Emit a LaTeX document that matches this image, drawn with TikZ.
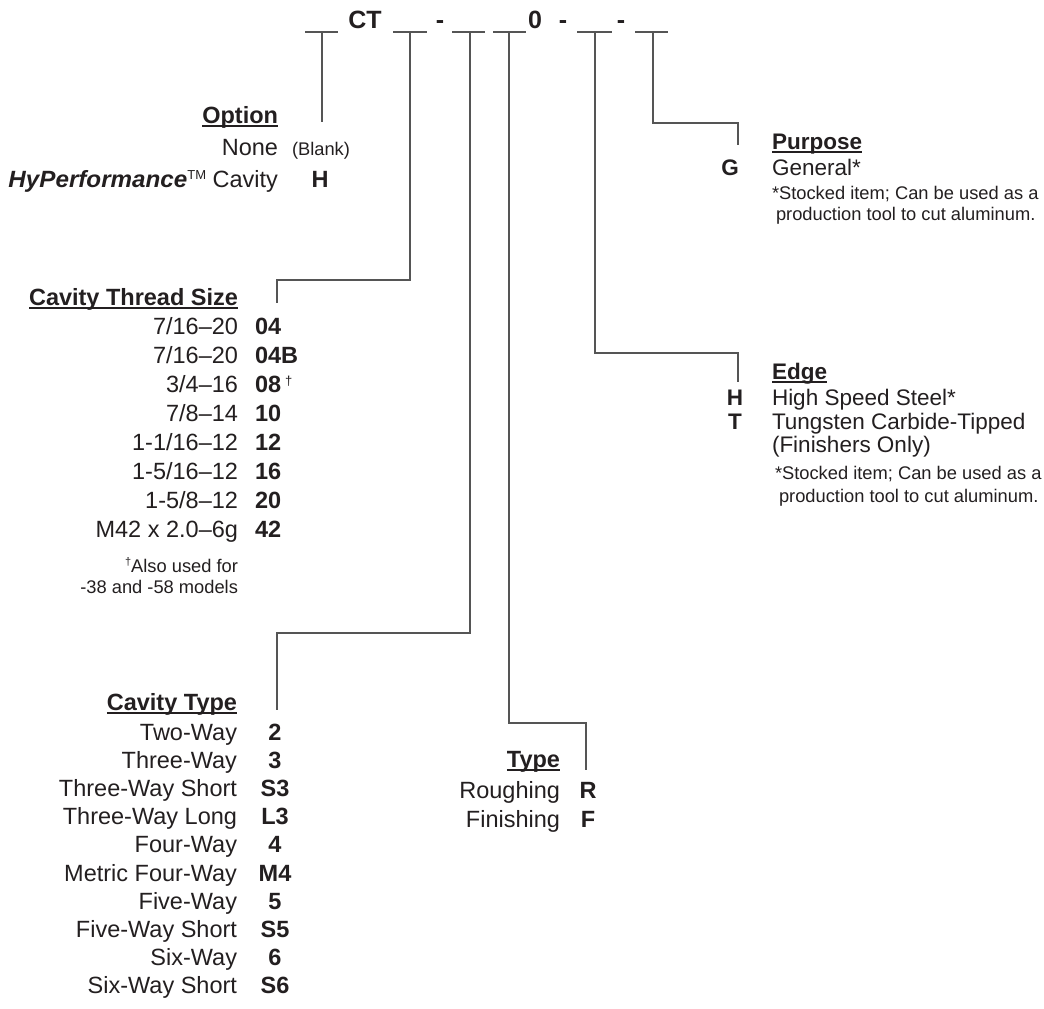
\documentclass[tikz,border=0pt]{standalone}
\usepackage{fontspec}
\setmainfont{Liberation Sans}
\definecolor{ink}{HTML}{231F20}
\definecolor{wirec}{HTML}{555555}
\newcommand{\fsL}{\fontsize{23.5}{27}\selectfont}
\newcommand{\fsR}{\fontsize{22.5}{26}\selectfont}
\begin{document}
\begin{tikzpicture}[x=1pt,y=-1pt,
  every node/.style={inner sep=0pt, outer sep=0pt, text=ink},
  lbl/.style={anchor=base east, font=\fsL},
  txt/.style={anchor=base west, font=\fsR},
  lcode/.style={anchor=base west, font=\fsL\bfseries},
  ccode/.style={anchor=base, font=\fsL\bfseries},
  rcode/.style={anchor=base, font=\fsR\bfseries},
  head/.style={font=\fsL\bfseries},
  rhead/.style={font=\fsR\bfseries},
  note/.style={font=\fontsize{18.3}{20}\selectfont},
  big/.style={anchor=base, font=\fontsize{25}{28}\selectfont\bfseries},
  wire/.style={draw=wirec, line width=1.3pt},
  ul/.style={draw=ink, line width=1.3pt},
]
\useasboundingbox (0,0) rectangle (1044,1009);
\fill[white] (0,0) rectangle (1044,1009);

% ---------- header ----------
\foreach \a/\b in {305/338, 393/427, 452/485, 493/526, 577/612, 635/668}
  \draw[wire] (\a,32) -- (\b,32);
\node[big] (ct) at (365,28) {CT};
\node[big] (d1) at (440,28) {-};
\node[big] (zero) at (535,28) {0};
\node[big] (d2) at (563,28) {-};
\node[big] (d3) at (621,28) {-};
\coordinate (b1) at (322,32);
\coordinate (b2) at (410,32);
\coordinate (b3) at (470,32);
\coordinate (b4) at (509,32);
\coordinate (b5) at (595,32);
\coordinate (b6) at (653,32);

% ---------- Option ----------
\node[head, anchor=base east] (oh) at (278,123) {Option};
\draw[ul] ([yshift=-3pt]oh.base west) -- ([yshift=-3pt]oh.base east);
\node[lbl] (on) at (278,155) {None};
\node[note, anchor=base west] (ob) at (292,155) {(Blank)};
\node[lbl] (ohp) at (278,187) {\scalebox{1.03}[1]{\textbf{\textit{HyPerformance}}}\raisebox{8pt}{\fontsize{13}{13}\selectfont TM} Cavity};
\node[ccode] (oH) at (320,187) {H};
\coordinate (e1) at (322,122);
\draw[wire] (b1) -- (e1);

% ---------- Cavity Thread Size ----------
\node[head, anchor=base east] (th) at (238,305) {Cavity Thread Size};
\draw[ul] ([yshift=-3pt]th.base west) -- ([yshift=-3pt]th.base east);
\node[lbl] (tl0) at (238,334) {7/16–20};
\node[lcode] (tc0) at (255,334) {04};
\node[lbl] (tl1) at (238,363) {7/16–20};
\node[lcode] (tc1) at (255,363) {04B};
\node[lbl] (tl2) at (238,392) {3/4–16};
\node[lcode] (tc2) at (255,392) {08\,\raisebox{7pt}{\normalfont\fontsize{13}{13}\selectfont †}};
\node[lbl] (tl3) at (238,421) {7/8–14};
\node[lcode] (tc3) at (255,421) {10};
\node[lbl] (tl4) at (238,450) {1-1/16–12};
\node[lcode] (tc4) at (255,450) {12};
\node[lbl] (tl5) at (238,479) {1-5/16–12};
\node[lcode] (tc5) at (255,479) {16};
\node[lbl] (tl6) at (238,508) {1-5/8–12};
\node[lcode] (tc6) at (255,508) {20};
\node[lbl] (tl7) at (238,537) {M42 x 2.0–6g};
\node[lcode] (tc7) at (255,537) {42};
\node[note, anchor=base east] (tf1) at (238,572) {\raisebox{7pt}{\fontsize{11}{11}\selectfont †}Also used for};
\node[note, anchor=base east] (tf2) at (238,593) {-38 and -58 models};
\coordinate (k2) at (277,280);
\coordinate (e2) at (277,303);
\draw[wire] (b2) |- (k2) -- (e2);

% ---------- Cavity Type ----------
\node[head, anchor=base east] (ch) at (237,710) {Cavity Type};
\draw[ul] ([yshift=-3pt]ch.base west) -- ([yshift=-3pt]ch.base east);
\foreach \lab/\cd [count=\i from 0] in {Two-Way/2, Three-Way/3, Three-Way Short/S3, Three-Way Long/L3, Four-Way/4, Metric Four-Way/M4, Five-Way/5, Five-Way Short/S5, Six-Way/6, Six-Way Short/S6}
{
  \node[lbl] (cl\i) at (237,740+28.2*\i) {\lab};
  \node[ccode] (cc\i) at (275,740+28.2*\i) {\cd};
}
\coordinate (k3) at (277,633);
\coordinate (e3) at (277,710);
\draw[wire] (b3) |- (k3) -- (e3);

% ---------- Type ----------
\node[head, anchor=base east] (yh) at (560,767) {Type};
\draw[ul] ([yshift=-3pt]yh.base west) -- ([yshift=-3pt]yh.base east);
\node[lbl] (yl1) at (560,798) {Roughing};
\node[ccode] (yc1) at (588,798) {R};
\node[lbl] (yl2) at (560,827) {Finishing};
\node[ccode] (yc2) at (588,827) {F};
\coordinate (k4) at (586,723);
\coordinate (e4) at (586,770);
\draw[wire] (b4) |- (k4) -- (e4);

% ---------- Edge ----------
\node[rhead, anchor=base west] (eh) at (772,379) {Edge};
\draw[ul] ([yshift=-3pt]eh.base west) -- ([yshift=-3pt]eh.base east);
\node[rcode] (ec1) at (735,405) {H};
\node[txt] (el1) at (772,405) {High Speed Steel*};
\node[rcode] (ec2) at (735,429) {T};
\node[txt] (el2) at (772,429) {Tungsten Carbide-Tipped};
\node[txt] (el3) at (772,452) {(Finishers Only)};
\node[note, anchor=base west] (ef1) at (775,479) {*Stocked item; Can be used as a};
\node[note, anchor=base west] (ef2) at (779,502) {production tool to cut aluminum.};
\coordinate (k5) at (738,353);
\coordinate (e5) at (738,382);
\draw[wire] (b5) |- (k5) -- (e5);

% ---------- Purpose ----------
\node[rhead, anchor=base west] (ph) at (772,149) {Purpose};
\draw[ul] ([yshift=-3pt]ph.base west) -- ([yshift=-3pt]ph.base east);
\node[rcode] (pc1) at (730,175) {G};
\node[txt] (pl1) at (772,175) {General*};
\node[note, anchor=base west] (pf1) at (772,199) {*Stocked item; Can be used as a};
\node[note, anchor=base west] (pf2) at (776,220) {production tool to cut aluminum.};
\coordinate (k6) at (738,123);
\coordinate (e6) at (738,145);
\draw[wire] (b6) |- (k6) -- (e6);
\end{tikzpicture}
\end{document}
